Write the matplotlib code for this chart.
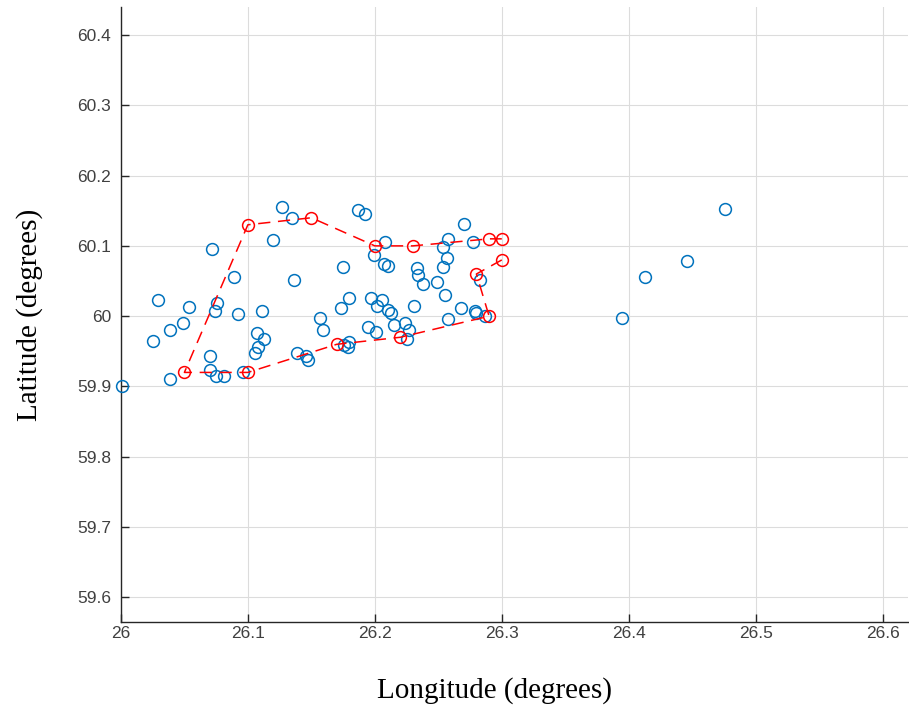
import numpy as np
import matplotlib
matplotlib.use('Agg')
import matplotlib.pyplot as plt
from matplotlib.ticker import FormatStrFormatter

# all locations (blue)
lon = [26.001, 26.025, 26.029, 26.039, 26.039, 26.049, 26.054, 26.070, 26.070, 26.072,
       26.074, 26.075, 26.076, 26.081, 26.089, 26.092, 26.096, 26.106, 26.107, 26.108,
       26.111, 26.113, 26.120, 26.127, 26.135, 26.136, 26.139, 26.146, 26.147, 26.157,
       26.159, 26.173, 26.175, 26.176, 26.180, 26.179, 26.180, 26.187, 26.192, 26.195,
       26.197, 26.199, 26.201, 26.202, 26.206, 26.208, 26.207, 26.210, 26.210, 26.213,
       26.215, 26.224, 26.225, 26.227, 26.231, 26.233, 26.234, 26.238, 26.249, 26.254,
       26.254, 26.255, 26.257, 26.258, 26.258, 26.268, 26.270, 26.277, 26.279, 26.280,
       26.283, 26.287, 26.395, 26.413, 26.446, 26.476]
lat = [59.900, 59.964, 60.023, 59.980, 59.911, 59.991, 60.013, 59.943, 59.924, 60.095,
       60.007, 59.915, 60.019, 59.915, 60.056, 60.003, 59.921, 59.948, 59.976, 59.956,
       60.007, 59.968, 60.109, 60.156, 60.139, 60.051, 59.947, 59.943, 59.938, 59.997,
       59.980, 60.011, 60.070, 59.959, 59.963, 59.956, 60.026, 60.151, 60.145, 59.984,
       60.026, 60.087, 59.977, 60.015, 60.023, 60.106, 60.074, 60.072, 60.009, 60.005,
       59.988, 59.991, 59.968, 59.980, 60.014, 60.068, 60.058, 60.046, 60.049, 60.098,
       60.070, 60.030, 60.083, 60.110, 59.996, 60.011, 60.131, 60.105, 60.007, 60.004,
       60.051, 60.000, 59.998, 60.056, 60.078, 60.152]

# route (red)
route_lon = [26.30, 26.28, 26.29, 26.22, 26.17, 26.10, 26.05, 26.10, 26.15, 26.20, 26.23, 26.29, 26.30]
route_lat = [60.08, 60.06, 60.00, 59.97, 59.96, 59.92, 59.92, 60.13, 60.14, 60.10, 60.10, 60.11, 60.11]

xticks = [26, 26.1, 26.2, 26.3, 26.4, 26.5, 26.6]
yticks = [59.6, 59.7, 59.8, 59.9, 60, 60.1, 60.2, 60.3, 60.4]

fig = plt.figure(figsize=(9.09, 7.12), dpi=100)
ax = fig.add_axes([0.133, 0.1264, 0.866, 0.864])

ax.plot(lon, lat, 'o', mfc='none', mec='#0072BD', ms=8.5, mew=1.1, clip_on=False, zorder=3)
ax.plot(route_lon, route_lat, '--o', color='r', mfc='none', ms=8.5, mew=1.1, lw=1.1,
        dashes=(8, 5), zorder=4)

ax.set_xlim(26, 26.62)
ax.set_ylim(59.565, 60.44)
ax.set_xticks(xticks)
ax.set_yticks(yticks)
ax.xaxis.set_major_formatter(FormatStrFormatter('%g'))
ax.yaxis.set_major_formatter(FormatStrFormatter('%g'))
ax.grid(True, color='#dcdcdc', lw=0.8)
ax.set_axisbelow(True)
for s in ['top', 'right']:
    ax.spines[s].set_visible(False)
for s in ['left', 'bottom']:
    ax.spines[s].set_color('#262626')
    ax.spines[s].set_linewidth(1.0)
ax.tick_params(direction='in', length=6, width=1, color='#262626', labelcolor='#404040',
               labelsize=12.5)
ax.tick_params(axis='x', pad=3)
ax.tick_params(axis='y', pad=7)
for lbl in ax.get_xticklabels() + ax.get_yticklabels():
    lbl.set_family('Liberation Sans')

ax.set_xlabel('Longitude (degrees)', family='Liberation Serif', fontsize=21)
ax.set_ylabel('Latitude (degrees)', family='Liberation Serif', fontsize=21)
ax.xaxis.set_label_coords(0.475, -0.09)
ax.yaxis.set_label_coords(-0.099, 0.5)

fig.savefig('out.png', dpi=100)
